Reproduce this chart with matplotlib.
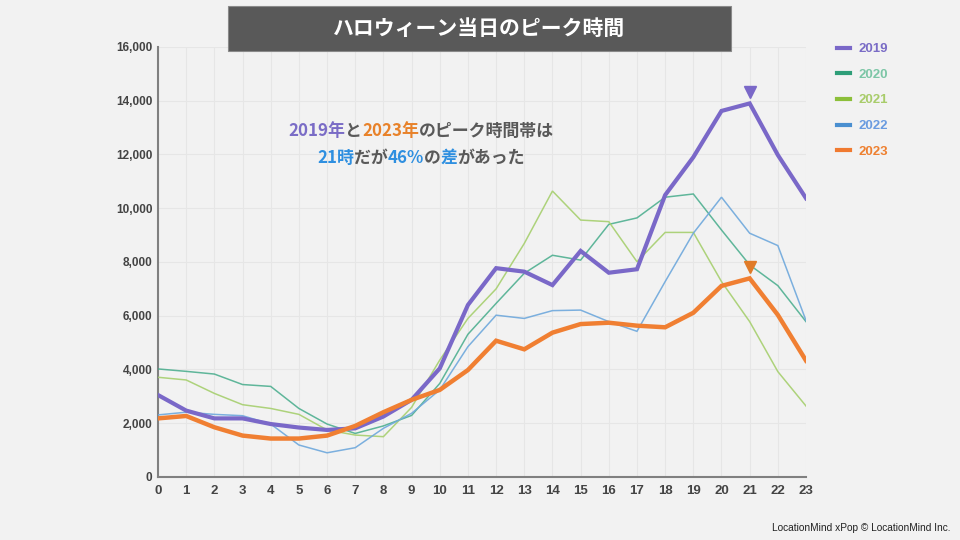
import numpy as np
import matplotlib.pyplot as plt
from matplotlib.patches import Rectangle
from matplotlib.lines import Line2D
from matplotlib.transforms import offset_copy

# hourly values on Halloween day
hours = list(range(24))
years = ['2019', '2020', '2021', '2022', '2023']
y2019 = [3050, 2470, 2180, 2180, 1970, 1840, 1750, 1810, 2250, 2870, 4040, 6400,
         7770, 7640, 7140, 8410, 7600, 7730, 10490, 11900, 13620, 13900, 11980, 10370]
y2020 = [4020, 3930, 3830, 3440, 3370, 2550, 1970, 1620, 1900, 2290, 3480, 5310,
         6460, 7580, 8250, 8070, 9400, 9640, 10410, 10530, 9190, 7890, 7120, 5780]
y2021 = [3710, 3610, 3110, 2690, 2550, 2330, 1750, 1560, 1500, 2590, 4350, 5900,
         7000, 8690, 10640, 9560, 9500, 8010, 9100, 9100, 7270, 5780, 3920, 2640]
y2022 = [2310, 2410, 2330, 2280, 1970, 1190, 900, 1090, 1810, 2370, 3240, 4850,
         6020, 5900, 6190, 6210, 5780, 5420, 7270, 9070, 10410, 9070, 8610, 5820]
y2023 = [2180, 2270, 1850, 1540, 1430, 1430, 1540, 1900, 2410, 2870, 3240, 3980,
         5070, 4750, 5370, 5690, 5740, 5630, 5570, 6110, 7110, 7390, 6030, 4330]
series = [y2019, y2020, y2021, y2022, y2023]
peak_hour = 21

yticks = [0, 2000, 4000, 6000, 8000, 10000, 12000, 14000, 16000]

line_colors = ['#7a68c8', '#3aa784', '#a6cf6e', '#6ea8dc', '#f07f32']
handle_colors = ['#7a68c8', '#2e9e78', '#8cbf3a', '#4a8fd0', '#f07a30']
label_colors = ['#7a6cc6', '#7cc6a6', '#a8cc6a', '#6a9be0', '#ee8030']
widths = [3.0, 1.1, 1.1, 1.1, 3.2]
alphas = [1, 0.8, 0.9, 0.9, 1]

bg = '#f2f2f2'
jp = ['Noto Sans CJK JP', 'DejaVu Sans']
plt.rcParams['font.family'] = ['Liberation Sans', 'DejaVu Sans']

fig = plt.figure(figsize=(9.6, 5.4), dpi=100, facecolor=bg)
ax = fig.add_axes([0.1646, 0.1167, 0.675, 0.7963])
ax.set_facecolor(bg)

# thin lines first, thick ones on top
for i in [1, 2, 3, 4, 0]:
    ax.plot(hours, series[i], color=line_colors[i], lw=widths[i],
            alpha=alphas[i], solid_joinstyle='miter', zorder=3 + widths[i])

# peak markers above hour 21
trans = offset_copy(ax.transData, fig=fig, y=8.3, units='points')
ax.plot(peak_hour, y2019[peak_hour], marker='v', ms=8.5, color='#7a68c8',
        transform=trans, zorder=8)
ax.plot(peak_hour, y2023[peak_hour], marker='v', ms=8.5, color='#e07b28',
        transform=trans, zorder=8)

ax.set_xlim(0, 23)
ax.set_ylim(0, 16000)
ax.set_xticks(hours)
ax.set_yticks(yticks)
ax.set_xticklabels([str(h) for h in hours])
ax.set_yticklabels([f'{v:,}' for v in yticks])
ax.grid(True, color='#e6e6e6', lw=0.8)
ax.set_axisbelow(True)
for s in ['top', 'right']:
    ax.spines[s].set_visible(False)
for s in ['left', 'bottom']:
    ax.spines[s].set_color('#808080')
    ax.spines[s].set_linewidth(1.5)
ax.tick_params(length=0, labelcolor='#444444')
ax.tick_params(axis='x', pad=6, labelsize=9.5)
ax.tick_params(axis='y', pad=4, labelsize=8.5)
for lab in ax.get_xticklabels() + ax.get_yticklabels():
    lab.set_fontweight('bold')

# legend on the right
for i, yr in enumerate(years):
    ly = 1 - (47.5 + i * 25.7) / 540
    fig.add_artist(Line2D([0.872, 0.885], [ly, ly], color=handle_colors[i], lw=3))
    fig.text(0.894, ly - 1.5 / 540, yr, color=label_colors[i], fontsize=9.5,
             fontweight='bold', va='center', ha='left')

# title box
fig.add_artist(Rectangle((228 / 960, 1 - 51 / 540), 503 / 960, 45 / 540,
                         transform=fig.transFigure, fc='#595959', ec='#8a8a8a', lw=0.8))
fig.text(479.5 / 960, 1 - 28.5 / 540, 'ハロウィーン当日のピーク時間', color='white',
         fontsize=15, fontweight='bold', family=jp, ha='center', va='center')

# coloured annotation, drawn piece by piece
purple, orange, gray, blue = '#7a6cc6', '#e8822a', '#595959', '#2e8fe0'
note = [
    [('2019年', purple), ('と', gray), ('2023年', orange), ('のピーク時間帯は', gray)],
    [('21時', blue), ('だが', gray), ('46%', blue), ('の', gray), ('差', blue), ('があった', gray)],
]
note_y = [1 - 131 / 540, 1 - 158 / 540]
renderer = fig.canvas.get_renderer()
for parts, ny in zip(note, note_y):
    texts = []
    for s, c in parts:
        t = fig.text(0, ny, s, color=c, fontsize=12.2, fontweight='bold',
                     family=jp, ha='left', va='center')
        texts.append(t)
    ws = [t.get_window_extent(renderer).width / fig.bbox.width for t in texts]
    x = 421 / 960 - sum(ws) / 2
    for t, w in zip(texts, ws):
        t.set_x(x)
        x += w

fig.text(0.9906, 1 - 528 / 540, 'LocationMind xPop © LocationMind Inc.',
         color='#222222', fontsize=7.3, ha='right', va='center')

fig.savefig('out.png', dpi=100, facecolor=bg)
